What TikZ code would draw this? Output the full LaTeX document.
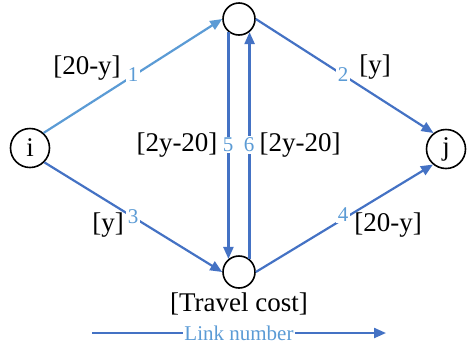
\documentclass[tikz,border=0pt]{standalone}
\usepackage{fontspec}
\setmainfont{Liberation Serif}
\usetikzlibrary{arrows.meta}
\definecolor{lblue}{HTML}{5B9BD5}
\definecolor{dblue}{HTML}{4472C4}
\begin{document}
\begin{tikzpicture}[x=1pt,y=-1pt,
  bignode/.style={circle,draw=black,line width=1.6pt,minimum size=39pt,inner sep=0pt,font=\fontsize{27}{29}\selectfont},
  smallnode/.style={circle,draw=black,line width=1.6pt,minimum size=32pt,inner sep=0pt},
  link/.style={line width=2.2pt,draw=dblue,-{Triangle[length=12pt,width=10pt]}},
  lightlink/.style={link,draw=lblue},
  cost/.style={font=\fontsize{27}{29}\selectfont,inner sep=0pt},
  num/.style={font=\fontsize{21}{22}\selectfont,text=lblue,fill=white,inner sep=1.5pt}]
\useasboundingbox (0,0) rectangle (470,349);
\node[bignode] (i) at (30,148) {i};
\node[bignode] (j) at (446,149) {j};
\node[smallnode] (t) at (239,19) {};
\node[smallnode] (b) at (239,272) {};
% links
\draw[lightlink] (i.48) -- (t.180);
\draw[link] (t.0) -- (j.128);
\draw[link] (i.-45) -- (b.180);
\draw[link] (b.0) -- (j.-130);
\draw[link] (t.231) -- (b.129);
\draw[link] (b.51) -- (t.-51);
% link numbers
\node[num] (n1) at (133,75) {1};
\node[num] (n2) at (343,75) {2};
\node[num] (n3) at (133,217) {3};
\node[num] (n4) at (343,215) {4};
\node[num] (n5) at (228,145) {5};
\node[num] (n6) at (249,145) {6};
% costs
\node[cost] (c1) at (87,68) {[20-y]};
\node[cost] (c2) at (375,67) {[y]};
\node[cost] (c3) at (108,225) {[y]};
\node[cost] (c4) at (388,225) {[20-y]};
\node[cost] (c5) at (177,145) {[2y-20]};
\node[cost] (c6) at (300,145) {[2y-20]};
% legend
\node[cost] (tc) at (239,304) {[Travel cost]};
\node[font=\fontsize{21}{23}\selectfont,text=lblue,inner sep=1pt] (ln) at (239,333) {Link number};
\coordinate (ls) at (92,333);
\coordinate (le) at (386,333);
\draw[line width=2.2pt,draw=dblue] (ls) -- (ln.west);
\draw[link] (ln.east) -- (le);
\end{tikzpicture}
\end{document}
